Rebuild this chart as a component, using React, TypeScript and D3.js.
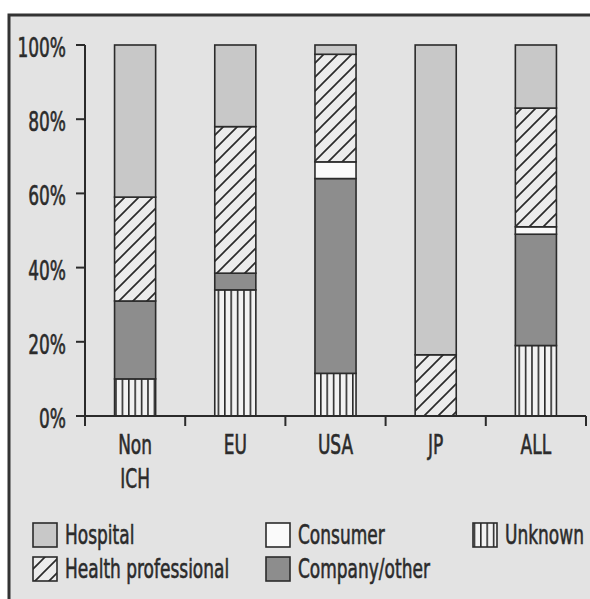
import React from "react";
import * as d3 from "d3";

const categories = ["Non ICH", "EU", "USA", "JP", "ALL"];
const categoryLines = [["Non", "ICH"], ["EU"], ["USA"], ["JP"], ["ALL"]];
const unknown = [10, 34, 11.5, 0, 19];
const company = [21, 4.5, 52.5, 0, 30];
const consumer = [0, 0, 4.5, 0, 2];
const healthProfessional = [28, 39.5, 29, 16.5, 32];
const hospital = [41, 22, 2.5, 83.5, 17];
const yTicks = [0, 20, 40, 60, 80, 100];

const seriesKeys = ["unknown", "company", "consumer", "healthProfessional", "hospital"];
const seriesLabels: Record<string, string> = {
  unknown: "Unknown",
  company: "Company/other",
  consumer: "Consumer",
  healthProfessional: "Health professional",
  hospital: "Hospital",
};

const BG = "#e3e3e3";
const INK = "#2b2b2b";
const FONT = "'DejaVu Sans Condensed', 'Liberation Sans Narrow', sans-serif";
const FILLS: Record<string, string> = {
  unknown: "url(#pUnknown)",
  company: "#8d8d8d",
  consumer: "#fafafa",
  healthProfessional: "url(#pHatch)",
  hospital: "#c8c8c8",
};

const rows = categories.map((c, i) => ({
  category: c,
  unknown: unknown[i],
  company: company[i],
  consumer: consumer[i],
  healthProfessional: healthProfessional[i],
  hospital: hospital[i],
}));

const Txt = ({ x, y, anchor = "start", children }: any) => (
  <text
    transform={`translate(${x},${y}) scale(0.70,1)`}
    textAnchor={anchor}
    fontFamily={FONT}
    fontSize={27}
    fill={INK}
    stroke={INK}
    strokeWidth={0.6}
  >
    {children}
  </text>
);

export default function App() {
  const W = 590;
  const H = 599;
  const x = d3.scaleBand<string>().domain(categories).range([85, 586]).paddingInner(0.59).paddingOuter(0.295);
  const y = d3.scaleLinear().domain([0, 100]).range([416, 45]);
  const stack = d3.stack<any>().keys(seriesKeys);
  const stacked = stack(rows as any);
  const step = x.step();
  const bw = x.bandwidth();
  const boundaries = categories.map((c) => (x(c) as number) - (step - bw) / 2);
  boundaries.push(586);

  const legendItems = [
    { key: "hospital", col: 0, row: 0 },
    { key: "consumer", col: 1, row: 0 },
    { key: "unknown", col: 2, row: 0 },
    { key: "healthProfessional", col: 0, row: 1 },
    { key: "company", col: 1, row: 1 },
  ];
  const legendCols = [33, 266, 473];
  const legendRows = [523, 557];

  return (
    <svg width={W} height={H} style={{ position: "absolute", left: 0, top: 0 }}>
      <defs>
        <pattern id="pHatch" patternUnits="userSpaceOnUse" width={14} height={14}>
          <rect width={14} height={14} fill="#ececec" />
          <path d="M-3.5,3.5 L3.5,-3.5 M0,14 L14,0 M10.5,17.5 L17.5,10.5" stroke={INK} strokeWidth={1.7} />
        </pattern>
        <pattern id="pUnknown" patternUnits="userSpaceOnUse" width={6.4} height={10}>
          <rect width={6.4} height={10} fill="#f2f2f2" />
          <line x1={0.8} x2={0.8} y1={0} y2={10} stroke={INK} strokeWidth={1.6} />
        </pattern>
      </defs>
      <rect x={0} y={0} width={W} height={H} fill="#ffffff" />
      <rect x={9} y={15} width={W + 20} height={H + 20} fill={BG} stroke="#333" strokeWidth={3} />

      {/* bars */}
      {stacked.map((s) =>
        s.map((d, i) => {
          if (d[1] - d[0] <= 0) return null;
          return (
            <rect
              key={s.key + i}
              x={x(categories[i])}
              y={y(d[1])}
              width={bw}
              height={y(d[0]) - y(d[1])}
              fill={FILLS[s.key]}
              stroke={INK}
              strokeWidth={1.6}
            />
          );
        })
      )}

      {/* y axis */}
      <line x1={85} x2={85} y1={y(100)} y2={y(0)} stroke={INK} strokeWidth={2} />
      {yTicks.map((t) => (
        <g key={t}>
          <line x1={76} x2={85} y1={y(t)} y2={y(t)} stroke={INK} strokeWidth={2} />
          <Txt x={66} y={y(t) + 12} anchor="end">{`${t}%`}</Txt>
        </g>
      ))}

      {/* x axis */}
      <line x1={85} x2={586} y1={y(0)} y2={y(0)} stroke={INK} strokeWidth={2} />
      {boundaries.map((b, i) => (
        <line key={i} x1={b} x2={b} y1={y(0)} y2={y(0) + 10} stroke={INK} strokeWidth={2} />
      ))}
      {categories.map((c, i) =>
        categoryLines[i].map((ln, j) => (
          <Txt key={c + j} x={(x(c) as number) + bw / 2} y={454 + j * 34} anchor="middle">
            {ln}
          </Txt>
        ))
      )}

      {/* legend */}
      {legendItems.map((it) => {
        const lx = legendCols[it.col];
        const ly = legendRows[it.row];
        return (
          <g key={it.key}>
            <rect x={lx} y={ly} width={24} height={24} fill={FILLS[it.key]} stroke={INK} strokeWidth={1.6} />
            <Txt x={lx + 32} y={ly + 21}>{seriesLabels[it.key]}</Txt>
          </g>
        );
      })}
    </svg>
  );
}
